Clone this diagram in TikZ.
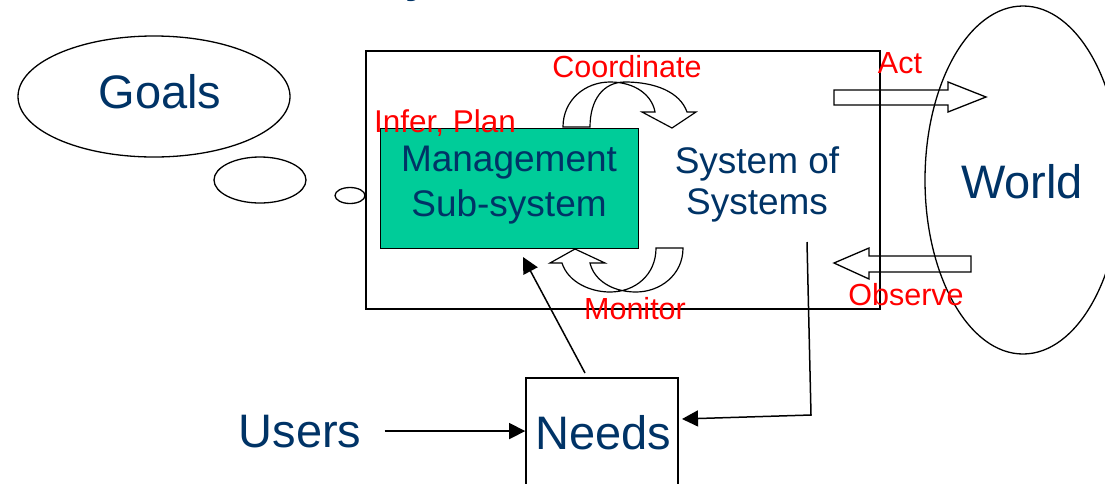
\documentclass[tikz,border=0pt]{standalone}
\usepackage{fontspec}
\setmainfont{Liberation Sans}
\usetikzlibrary{shapes.geometric,arrows.meta}
\definecolor{navy}{RGB}{0,51,102}
\definecolor{mgreen}{RGB}{0,204,153}
\begin{document}
\begin{tikzpicture}[x=1pt,y=-1pt,
  bigtxt/.style={text=navy,font=\fontsize{47}{54}\selectfont,inner sep=0pt},
  midtxt/.style={text=navy,font=\fontsize{37}{45}\selectfont,inner sep=0pt,align=center},
  redtxt/.style={text=red,font=\fontsize{30.5}{36}\selectfont,inner sep=0pt},
  bubble/.style={draw,ellipse,line width=1.3pt,inner sep=0pt},
  frame/.style={draw,line width=1.6pt,inner sep=0pt},
  arr/.style={line width=1.5pt,-{Triangle[length=16pt,width=16pt]}},
  blockarrow/.style={draw,line width=1.3pt,line join=miter},
  turnarrow/.style={draw,line width=1.2pt,line join=miter}]
\useasboundingbox (0,0) rectangle (1105,483);
\clip (0,0) rectangle (1105,483);

% title fragment
\node[anchor=base west,text=navy,font=\fontsize{44}{50}\selectfont\bfseries,inner sep=0pt] (titlefrag) at (405,-8) {y};

% thought bubbles
\node[bubble,minimum width=272pt,minimum height=121pt] (goalsbubble) at (154,96.5) {};
\node[bigtxt,anchor=base] (goals) at (160,108) {Goals};
\node[bubble,minimum width=92pt,minimum height=46pt] (bubble2) at (260,180) {};
\node[bubble,minimum width=30pt,minimum height=16pt] (bubble3) at (350,195.5) {};

% world
\node[bubble,minimum width=196pt,minimum height=348pt] (worldbubble) at (1023,180) {};
\node[bigtxt,anchor=base] (world) at (1022,198) {World};

% system box
\node[frame,minimum width=514pt,minimum height=258pt] (sosbox) at (623,180) {};
\node[draw,fill=mgreen,line width=1pt,inner sep=0pt,minimum width=258pt,minimum height=120pt] (mgmtbox) at (509,188) {};
\node[midtxt] (mgmt) at (509,185) {Management\\Sub-system};
\node[midtxt,font=\fontsize{37}{41}\selectfont] (sos) at (757,184) {System of\\Systems};

% coordinate turn arrow
\draw[turnarrow] (563,127) .. controls (563,100) and (585,82) .. (610,82)
  .. controls (635,82) and (652,95) .. (655,112) -- (642,112) -- (672,128) -- (696,112) -- (687,112)
  .. controls (680,92) and (655,82) .. (625,82)
  .. controls (603,82) and (590,100) .. (590,127) -- cycle;
% monitor turn arrow
\draw[turnarrow] (683,248) .. controls (683,275) and (660,292) .. (636,292)
  .. controls (612,292) and (594,280) .. (590,263) -- (605,263) -- (575,249) -- (550,263) -- (562,263)
  .. controls (568,282) and (590,292) .. (610,292)
  .. controls (635,292) and (656,275) .. (656,248) -- cycle;

% act / observe block arrows
\draw[blockarrow] (834,90) -- (948,90) -- (948,82) -- (986,97) -- (948,112) -- (948,105) -- (834,105) -- cycle;
\draw[blockarrow] (971,256) -- (869,256) -- (869,248) -- (834,263) -- (869,279) -- (869,272) -- (971,272) -- cycle;

% red labels
\node[redtxt,anchor=base] (coord) at (627,77) {Coordinate};
\node[redtxt,anchor=base] (act) at (900,73) {Act};
\node[redtxt,anchor=base] (observe) at (906,305) {Observe};
\node[redtxt,anchor=base] (monitor) at (635,319) {Monitor};
\node[redtxt,anchor=base,font=\fontsize{31.5}{36}\selectfont] (infer) at (445,132) {Infer, Plan};

% needs and users
\node[frame,minimum width=152pt,minimum height=130pt] (needsbox) at (602,443) {};
\node[bigtxt,anchor=base] (needs) at (603,449) {Needs};
\node[bigtxt,anchor=base] (users) at (300,447) {Users};

% connectors
\coordinate (sosout) at (807,242);
\coordinate (sosbend) at (811,415);
\coordinate (needsin) at (682,419);
\coordinate (needsout) at (585,373);
\coordinate (mgmtin) at (523,257);
\draw[arr] ([xshift=23pt]users.east) -- (users.east -| needsbox.west);
\draw[arr] (needsout) -- (mgmtin);
\draw[arr] (sosout) -- (sosbend) -- (needsin);
\end{tikzpicture}
\end{document}
